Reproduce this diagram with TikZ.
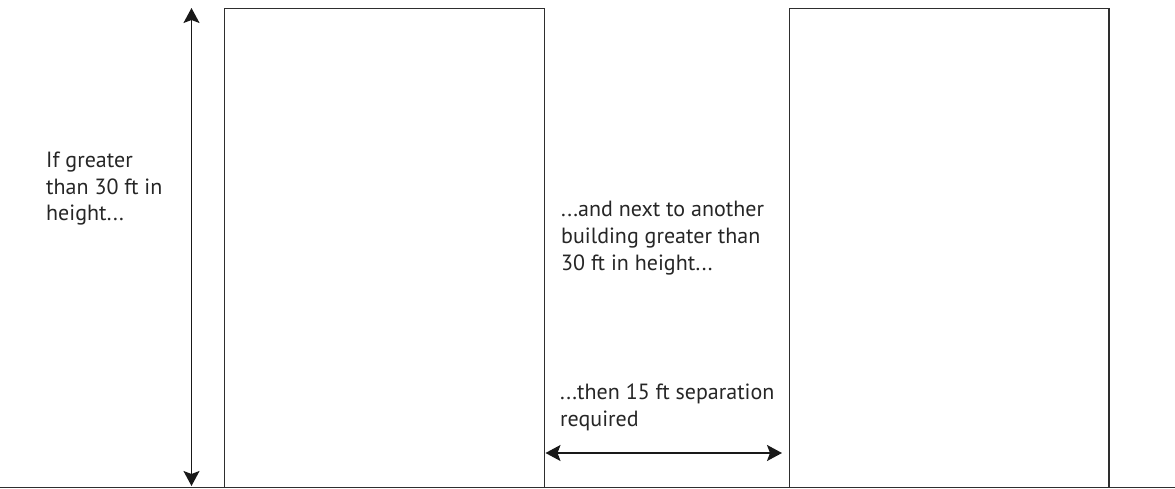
\documentclass[tikz,border=0pt]{standalone}
\usepackage{fontspec}
\setmainfont{PT Sans}
\usetikzlibrary{arrows.meta}
\begin{document}
\begin{tikzpicture}[x=1pt,y=-1pt,
  line/.style={draw=black!82,line width=1.9pt},
  dim/.style={black!90,line width=1.5pt,{Stealth[length=15pt,width=16pt,inset=3pt]}-{Stealth[length=15pt,width=16pt,inset=3pt]}},
  lbl/.style={inner sep=0pt,align=left,font=\fontsize{22}{26.8}\selectfont,text=black!85,anchor=base west}]
\useasboundingbox (0,0) rectangle (1175,489);
\coordinate (gl) at (0,487.5);
\coordinate (gr) at (1175,487.5);
\draw[line] (gl) -- (gr);
\draw[line] (224.5,487.5) -- (224.5,8.5) -- (544.5,8.5) -- (544.5,487.5);
\draw[line] (789.5,487.5) -- (789.5,8.5) -- (1109,8.5) -- (1109,487.5);
\coordinate (vt) at (191.5,8);
\coordinate (vb) at (191.5,486);
\draw[dim] (vt) -- (vb);
\coordinate (hl) at (545.5,453);
\coordinate (hr) at (782,453);
\draw[dim] (hl) -- (hr);
\node[lbl] (t1) at (46,221) {If greater\\than 30 ft in\\height...};
\node[lbl] (t2) at (561,270) {...and next to another\\building greater than\\30 ft in height...};
\node[lbl] (t3) at (560,426) {...then 15 ft separation\\required};
\end{tikzpicture}
\end{document}
